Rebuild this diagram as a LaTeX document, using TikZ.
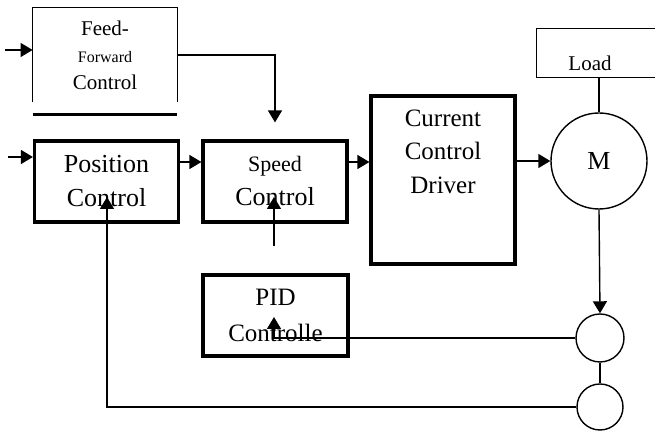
\documentclass[tikz,border=0pt]{standalone}
\usepackage{fontspec}
\setmainfont{Liberation Serif}
\usetikzlibrary{arrows.meta,positioning,calc}

\begin{document}
\begin{tikzpicture}[x=0.5pt,y=-0.5pt,font=\fontsize{13}{17}\selectfont,
  blk/.style={draw,line width=1.6pt,minimum width=72pt,minimum height=40.5pt,align=center,inner sep=0pt},
  sig/.style={line width=0.7pt},
  arr/.style={sig,-{Triangle[length=6pt,width=7pt]}},
  sens/.style={draw,circle,sig,minimum size=24pt,inner sep=0pt}]
  \useasboundingbox (0,0) rectangle (655,431);
  % feed-forward block, open at the bottom
  \node[minimum width=72pt,minimum height=47pt,align=center,inner sep=0pt,font=\fontsize{10.5}{13.5}\selectfont] (ff) at (105,55) {Feed-\\{\fontsize{8}{13.5}\selectfont Forward}\hspace*{8pt}\\Control};
  \draw[sig] (ff.south west) -- (ff.north west) -- (ff.north east) -- (ff.south east);
  \draw[line width=1.6pt] ([yshift=-6pt]ff.south west) -- ([yshift=-6pt]ff.south east);
  % main chain
  \node[blk] (pos) at (106.5,181.5) {Position\\Control};
  \node[blk] (spd) at (275,181.5) {{\fontsize{11}{17}\selectfont Speed}\\Control};
  \node[blk,minimum height=84pt] (cur) at (443,180) {};
  \node[below=4pt of cur.north,align=center,font=\fontsize{12.5}{16.75}\selectfont] (curtxt) {Current\\Control\\Driver};
  \node[blk,minimum width=72.5pt,font=\fontsize{12.5}{18}\selectfont] (pid) at (275.5,315.5) {PID\\Controlle};
  % motor, load and sensors
  \node[circle,draw,sig,minimum size=48pt,inner sep=0pt] (mot) at (599,161) {M};
  \node[minimum width=62pt,minimum height=24pt] (load) at (599,53) {};
  \draw[sig] (load.north east) -- (load.north west) -- (load.south west) -- (load.south east);
  \node (loadtxt) at (590,63) {\fontsize{10.5}{12}\selectfont Load};
  \node[sens] (s1) at (600,338) {};
  \node[sens,minimum size=23pt] (s2) at (600,407) {};
  % free ends
  \coordinate (ffin) at (5,50);
  \coordinate (posin) at (8,157);
  \coordinate (fwd) at (0,162);
  \coordinate (spdtip) at (274,197);
  \coordinate (spdbot) at (274,246);
  \coordinate (postip) at (107,197);
  \coordinate (pidtip) at (274,317);
  % signals
  \draw[arr] (ffin) -- (ffin -| ff.west);
  \draw[arr] (ff.east) -| ([yshift=8.5pt]spd.north);
  \draw[arr] (posin) -- (posin -| pos.west);
  \draw[arr] (pos.east |- fwd) -- (spd.west |- fwd);
  \draw[arr] (spd.east |- fwd) -- (cur.west |- fwd);
  \draw[arr] (cur.east |- mot.west) -- (mot.west);
  \draw[sig] (load.south) -- (mot.north);
  \draw[arr] (mot.south) -- (s1.north);
  \draw[sig] (s1.south) -- (s2.north);
  \draw[arr] (s1.west) -| (pidtip);
  \draw[arr] (s2.west) -| (postip);
  \draw[arr] (spdbot) -- (spdtip);
\end{tikzpicture}
\end{document}
